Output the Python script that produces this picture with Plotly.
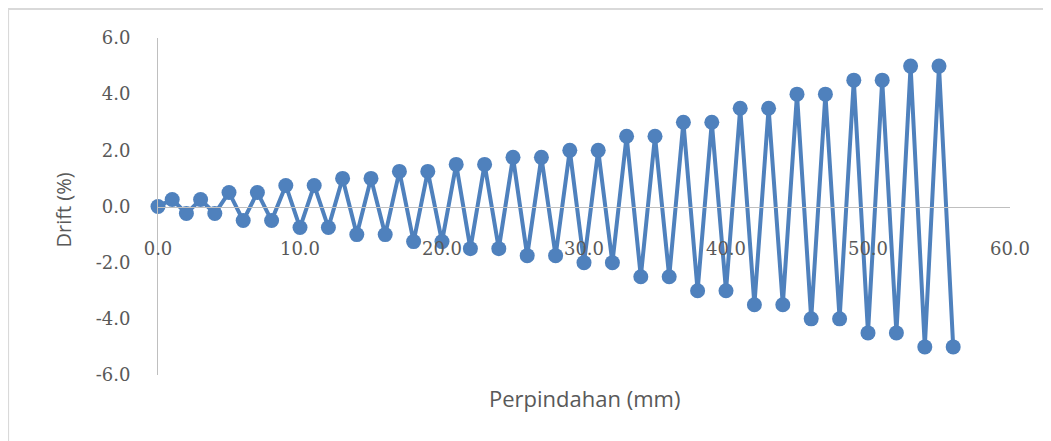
import plotly.graph_objects as go

# Data
displacement = list(range(0, 57))
amplitudes = [0.25, 0.5, 0.75, 1.0, 1.25, 1.5, 1.75, 2.0, 2.5, 3.0, 3.5, 4.0, 4.5, 5.0]
drift = [0.0]
for a in amplitudes:
    drift += [a, -a, a, -a]

x_ticks = [0, 10, 20, 30, 40, 50, 60]
y_ticks = [-6, -4, -2, 0, 2, 4, 6]

blue = "#4F81BD"
gray_text = "#595959"

OFF = 8  # page body margin
W, H = 1051, 441
L, T = 157.5 - OFF, 38 - OFF
R = W - (1010 - OFF)
B = H - (375 - OFF)
pw, ph = W - L - R, H - T - B


def px(x):
    return (x - OFF - L) / pw


def py(y):
    return (375 - y) / ph


fig = go.Figure()
fig.add_trace(go.Scatter(
    x=displacement, y=drift, mode="lines+markers",
    line=dict(color=blue, width=4),
    marker=dict(color=blue, size=15),
    showlegend=False, cliponaxis=False,
))

fig.update_layout(
    width=W, height=H,
    margin=dict(l=L, r=R, t=T, b=B),
    paper_bgcolor="white", plot_bgcolor="white",
    xaxis=dict(range=[0, 60], tickvals=x_ticks, ticktext=[f"{v:.1f}" for v in x_ticks],
               showgrid=False, zeroline=False, showline=True, linecolor="#BFBFBF", linewidth=1,
               anchor="free", position=0.5, ticks="", ticklabelstandoff=26,
               tickfont=dict(family="DejaVu Serif", size=18, color=gray_text)),
    yaxis=dict(range=[-6, 6], tickvals=y_ticks, ticktext=[f"{v:.1f}" for v in y_ticks],
               showgrid=False, zeroline=False, showline=True, linecolor="#BFBFBF", linewidth=1,
               ticks="", ticklabelstandoff=23,
               tickfont=dict(family="DejaVu Serif", size=18, color=gray_text)),
    font=dict(family="Open Sans", color=gray_text),
)

fig.add_annotation(text="Perpindahan (mm)", xref="paper", yref="paper",
                   x=0.5, y=py(398), xanchor="center", yanchor="middle", showarrow=False,
                   font=dict(family="Open Sans", size=22, color=gray_text))
fig.add_annotation(text="Drift (%)", xref="paper", yref="paper",
                   x=px(62), y=py(210), xanchor="center", yanchor="middle",
                   textangle=-90, showarrow=False,
                   font=dict(family="Open Sans", size=20, color=gray_text))

# chart border
fig.add_shape(type="rect", xref="paper", yref="paper",
              x0=px(7.5), x1=px(1070),
              y0=py(460), y1=py(9),
              line=dict(color="#D9D9D9", width=2), fillcolor="rgba(0,0,0,0)", layer="below")

fig.write_html("out.html")
